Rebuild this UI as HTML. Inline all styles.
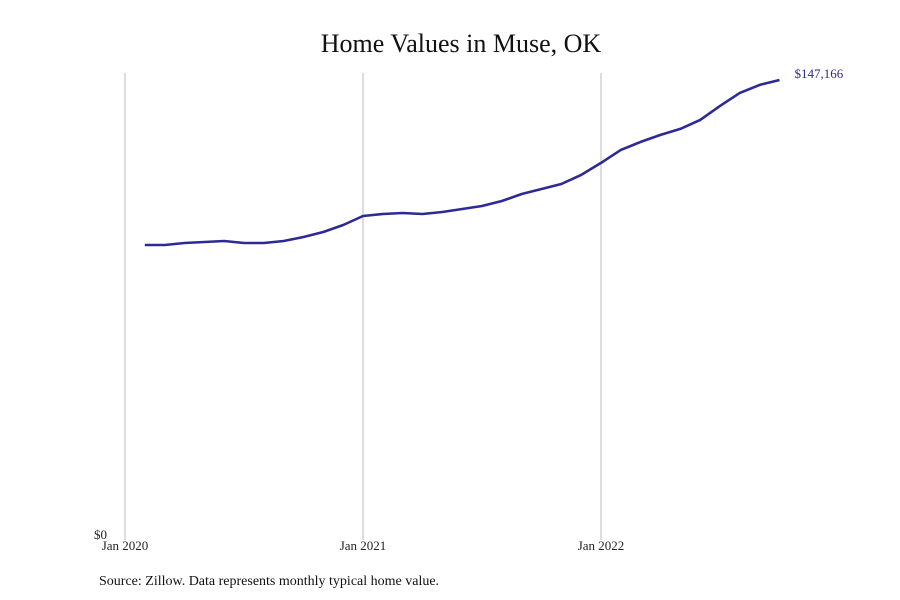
<!DOCTYPE html>
<html><head><meta charset="utf-8"><style>
html,body{margin:0;padding:0;background:#fff;width:900px;height:600px;overflow:hidden}
svg text{font-family:"Liberation Serif",serif}
</style></head><body>
<svg width="900" height="600">
<text x="461" y="52" text-anchor="middle" font-size="26" fill="#111">Home Values in Muse, OK</text>
<g id="grid"></g>
<g id="xlabels"></g>
<text x="94" y="539" font-size="13" fill="#222">$0</text>
<path id="line" fill="none" stroke="#2e2a94" stroke-width="2.6" stroke-linejoin="round"></path>
<text id="endlabel" font-size="13" fill="#2e2a94"></text>
<text x="99" y="585" font-size="14" fill="#111">Source: Zillow. Data represents monthly typical home value.</text>
</svg>
<script>
const startMonth = 1; // months since Jan 2020 for first point (Feb 2020)
const values = [93694,93694,94342,94666,94990,94342,94342,94990,96287,97908,100178,103096,103744,104068,103744,104392,105365,106338,107959,110228,111849,113470,116388,120278,124493,127086,129356,131301,134219,138758,142972,145566,147166];
const tickLabels = ["Jan 2020","Jan 2021","Jan 2022"];
const tickMonths = [0,12,24];
const x0=125, pxPerMonth=238/12, yBase=534, yMaxVal=147166, yTop=80;
const xs = m => x0 + m*pxPerMonth;
const ys = v => yBase - (v/yMaxVal)*(yBase-yTop);
const ns="http://www.w3.org/2000/svg";
const grid=document.getElementById('grid'), xl=document.getElementById('xlabels');
tickMonths.forEach((m,i)=>{
  const l=document.createElementNS(ns,'line');
  
  
  l.setAttribute('x1',xs(m));l.setAttribute('x2',xs(m));l.setAttribute('y1',73);l.setAttribute('y2',540);
  l.setAttribute('stroke','#bbb');l.setAttribute('stroke-width','1');
  grid.appendChild(l);
  const t=document.createElementNS(ns,'text');
  
  
  t.setAttribute('x',xs(m));t.setAttribute('y',550);t.setAttribute('text-anchor','middle');
  t.setAttribute('font-size','13');t.setAttribute('fill','#222');
  t.textContent=tickLabels[i];xl.appendChild(t);
});
let d='';
values.forEach((v,i)=>{d+=(i?'L':'M')+xs(startMonth+i).toFixed(1)+' '+ys(v).toFixed(1);});
document.getElementById('line').setAttribute('d',d);
const last=values[values.length-1];
const el=document.getElementById('endlabel');
el.setAttribute('x',xs(startMonth+values.length-1)+15);
el.setAttribute('y',ys(last)-2);
el.textContent='$'+last.toLocaleString('en-US');
</script>
</body></html>
